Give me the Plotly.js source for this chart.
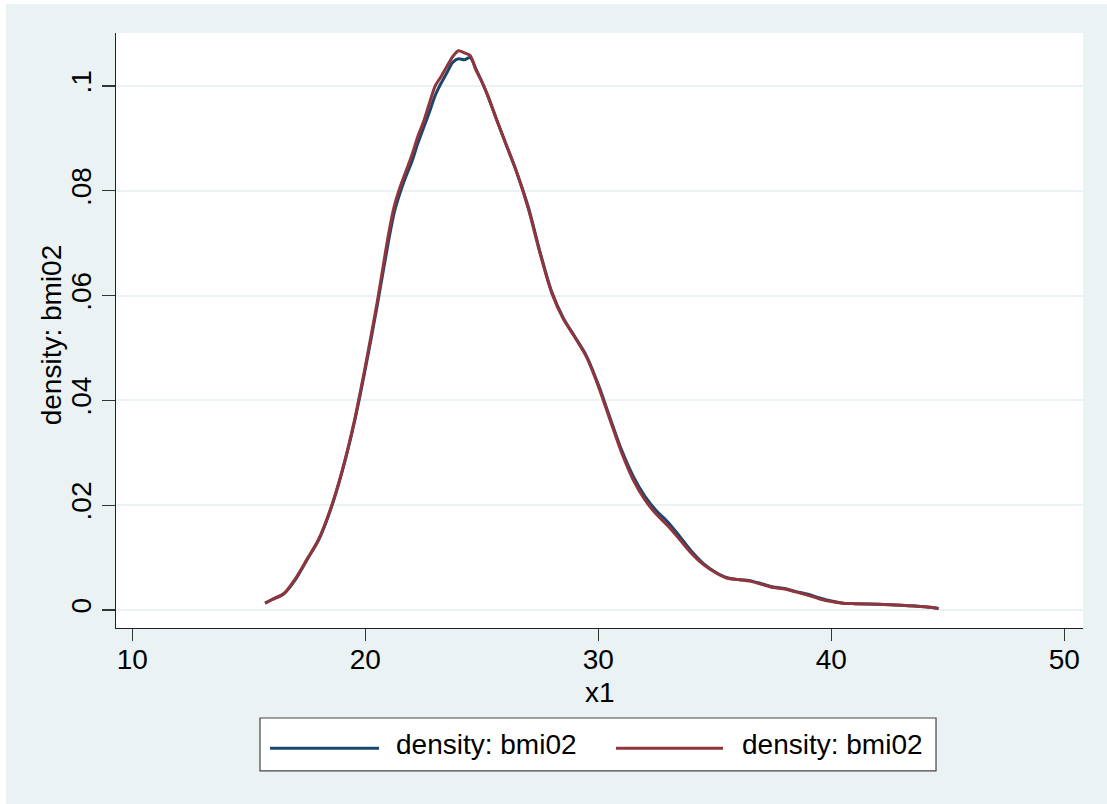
<!DOCTYPE html>
<html>
<head>
<meta charset="utf-8">
<script src="https://cdn.plot.ly/plotly-3.0.1.min.js"></script>
<style>
  html, body { margin: 0; padding: 0; background: #ffffff; width: 1107px; height: 804px; overflow: hidden; }
  #chart { position: absolute; left: 6px; top: 4px; width: 1101px; height: 800px; }
</style>
</head>
<body>
<div id="chart"></div>
<script>
// ---- data ----
const xGrid = [15.7, 16, 16.5, 17, 17.5, 18, 18.5, 19, 19.5, 20, 20.5, 21, 21.25, 21.5, 21.75, 22, 22.25, 22.5, 22.75, 23, 23.25, 23.5, 23.75, 24, 24.25, 24.5, 24.75, 25, 25.25, 25.5, 25.75, 26, 26.5, 27, 27.5, 28, 28.5, 29, 29.5, 30, 30.5, 31, 31.5, 32, 32.5, 33, 33.5, 34, 34.5, 35, 35.5, 36, 36.5, 37, 37.5, 38, 38.5, 39, 39.5, 40, 40.5, 41, 42, 43, 44, 44.6];

const densityBlue = [0.0013, 0.0020, 0.0031, 0.0058, 0.0096, 0.0134, 0.0190, 0.0263, 0.0352, 0.0460, 0.0578, 0.0705, 0.0760, 0.0797, 0.0828, 0.0856, 0.0890, 0.0920, 0.0950, 0.0982, 0.1005, 0.1025, 0.1045, 0.1052, 0.1050, 0.1054, 0.1032, 0.1008, 0.0982, 0.0952, 0.0922, 0.0893, 0.0835, 0.0768, 0.0683, 0.0607, 0.0557, 0.0521, 0.0484, 0.0430, 0.0367, 0.0305, 0.0255, 0.0217, 0.0189, 0.0167, 0.0140, 0.0112, 0.0089, 0.0073, 0.0062, 0.0058, 0.0056, 0.0050, 0.0044, 0.0041, 0.0035, 0.0030, 0.0023, 0.0017, 0.0013, 0.0012, 0.0011, 0.0009, 0.0006, 0.0003];

const densityRed = [0.0013, 0.0020, 0.0031, 0.0060, 0.0097, 0.0135, 0.0192, 0.0265, 0.0355, 0.0465, 0.0585, 0.0718, 0.0772, 0.0808, 0.0838, 0.0868, 0.0903, 0.0932, 0.0967, 0.1000, 0.1018, 0.1037, 0.1056, 0.1067, 0.1063, 0.1058, 0.1030, 0.1008, 0.0982, 0.0952, 0.0922, 0.0893, 0.0835, 0.0765, 0.0680, 0.0605, 0.0555, 0.0520, 0.0482, 0.0427, 0.0363, 0.0300, 0.0248, 0.0210, 0.0182, 0.0160, 0.0134, 0.0108, 0.0087, 0.0072, 0.0061, 0.0058, 0.0055, 0.0049, 0.0043, 0.0040, 0.0034, 0.0028, 0.0021, 0.0016, 0.0013, 0.0012, 0.0011, 0.0009, 0.0006, 0.0003];

const seriesNames = ["density: bmi02", "density: bmi02"];
const seriesColors = ["#1A476F", "#90353B"];
const yTickVals = [0, 0.02, 0.04, 0.06, 0.08, 0.1];
const yTickText = ["0", ".02", ".04", ".06", ".08", ".1"];
const xTickVals = [10, 20, 30, 40, 50];
const xTickText = ["10", "20", "30", "40", "50"];
const xTitle = "x1";
const yTitle = "density: bmi02";

// ---- chart ----
const FONT = "Liberation Sans, Arial, Helvetica, sans-serif";
const traces = [densityBlue, densityRed].map((ys, i) => ({
  type: "scatter",
  mode: "lines",
  x: xGrid,
  y: ys,
  name: seriesNames[i],
  line: { color: seriesColors[i], width: 3, shape: "spline", smoothing: 0.8 },
  showlegend: false,
  hoverinfo: "x+y"
}));

// Manual Stata-style legend (paper coordinates of the plot area)
const legBox = { x0: 0.1489, x1: 0.8480, y0: -0.1513, y1: -0.2400 };
const legY = -0.1960;
const legItems = [
  { l0: 0.1593, l1: 0.2720, tx: 0.2875 },
  { l0: 0.5171, l1: 0.6277, tx: 0.6453 }
];
const shapes = [{
  type: "rect", xref: "paper", yref: "paper",
  x0: legBox.x0, x1: legBox.x1, y0: legBox.y0, y1: legBox.y1,
  fillcolor: "#ffffff", line: { color: "#444444", width: 1.2 }, layer: "above"
}];
const annotations = [];
legItems.forEach((it, i) => {
  shapes.push({
    type: "line", xref: "paper", yref: "paper",
    x0: it.l0, x1: it.l1, y0: legY - 0.006, y1: legY - 0.006,
    line: { color: seriesColors[i], width: 3 }, layer: "above"
  });
  annotations.push({
    xref: "paper", yref: "paper", x: it.tx, y: legY,
    xanchor: "left", yanchor: "middle", showarrow: false,
    text: seriesNames[i], font: { family: FONT, size: 28, color: "#000000" }
  });
});
// axis titles placed as in the reference
annotations.push({
  xref: "paper", yref: "paper", x: 0.5, y: -0.1092,
  xanchor: "center", yanchor: "middle", showarrow: false,
  text: xTitle, font: { family: FONT, size: 28, color: "#000000" }
});
annotations.push({
  xref: "paper", yref: "paper", x: -0.0672, y: 0.492,
  xanchor: "center", yanchor: "middle", showarrow: false, textangle: -90,
  text: yTitle, font: { family: FONT, size: 28, color: "#000000" }
});

const layout = {
  width: 1101, height: 800,
  margin: { l: 110, r: 24, t: 29, b: 176, pad: 0 },
  paper_bgcolor: "#EAF2F3",
  plot_bgcolor: "#ffffff",
  font: { family: FONT, size: 28, color: "#000000" },
  xaxis: {
    range: [9.30, 50.80],
    tickvals: xTickVals, ticktext: xTickText,
    ticks: "outside", ticklen: 12, tickwidth: 1.3, tickcolor: "#333333",
    ticklabelstandoff: -6,
    showline: true, linecolor: "#222222", linewidth: 1.3,
    showgrid: false, zeroline: false,
    tickfont: { family: FONT, size: 28, color: "#000000" }
  },
  yaxis: {
    range: [-0.00344, 0.1101],
    tickvals: yTickVals, ticktext: yTickText,
    tickangle: -90,
    ticks: "outside", ticklen: 13, tickwidth: 1.3, tickcolor: "#333333",
    showline: true, linecolor: "#222222", linewidth: 1.3,
    showgrid: true, gridcolor: "#EAF2F3", gridwidth: 2,
    zeroline: false,
    tickfont: { family: FONT, size: 28, color: "#000000" }
  },
  shapes: shapes,
  annotations: annotations
};

Plotly.newPlot("chart", traces, layout, { displayModeBar: false, staticPlot: true });
</script>
</body>
</html>
